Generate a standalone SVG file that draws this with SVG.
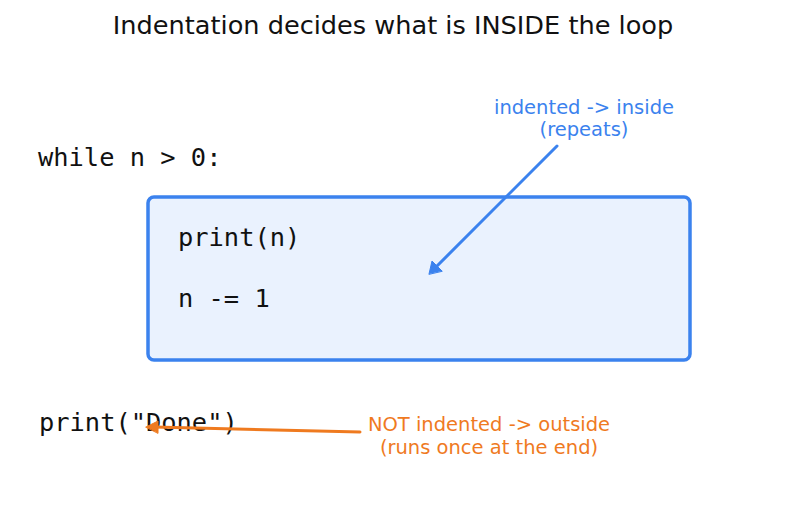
<svg xmlns="http://www.w3.org/2000/svg" width="787" height="512" viewBox="0 0 787 512">
<style>
.title{font-family:"DejaVu Sans",sans-serif;font-size:25.6px;fill:#111;text-anchor:middle}
.code{font-family:"DejaVu Sans Mono",monospace;font-size:25.4px;fill:#111}
.ann{font-family:"DejaVu Sans",sans-serif;font-size:19.5px;text-anchor:middle}
</style>
<rect width="787" height="512" fill="#fff"/>
<text class="title" x="393" y="34">Indentation decides what is INSIDE the loop</text>
<g id="while"><text class="code" x="38" y="166">while n &gt; 0:</text></g>
<g id="body">
<rect x="148" y="197" width="542" height="163" rx="6" fill="#eaf2fe" stroke="#3b82ee" stroke-width="3.5"/>
<text class="code" x="178" y="246">print(n)</text>
<text class="code" x="178" y="307">n -= 1</text>
</g>
<g id="done"><text class="code" x="39" y="431">print("Done")</text></g>
<g id="ann-inside"><text class="ann" fill="#3b82ee" x="584" y="114">indented -&gt; inside</text><text class="ann" fill="#3b82ee" x="584" y="136">(repeats)</text></g>
<g id="ann-outside"><text class="ann" fill="#ef7a1f" x="489" y="431">NOT indented -&gt; outside</text><text class="ann" fill="#ef7a1f" x="489" y="454">(runs once at the end)</text></g>
<g id="connectors" fill="none" stroke-width="3" stroke-linecap="round">
<path d="M557,146 L433,270" stroke="#3b82ee"/>
<path d="M429,274 l3,-13 l10,10 z" fill="#3b82ee" stroke="#3b82ee" stroke-width="1" stroke-linejoin="round"/>
<path d="M360,432 L154,427" stroke="#ef7a1f"/>
<path d="M146,427 l12,-6 l0,12 z" fill="#ef7a1f" stroke="#ef7a1f" stroke-width="1" stroke-linejoin="round"/>
</g>
</svg>
